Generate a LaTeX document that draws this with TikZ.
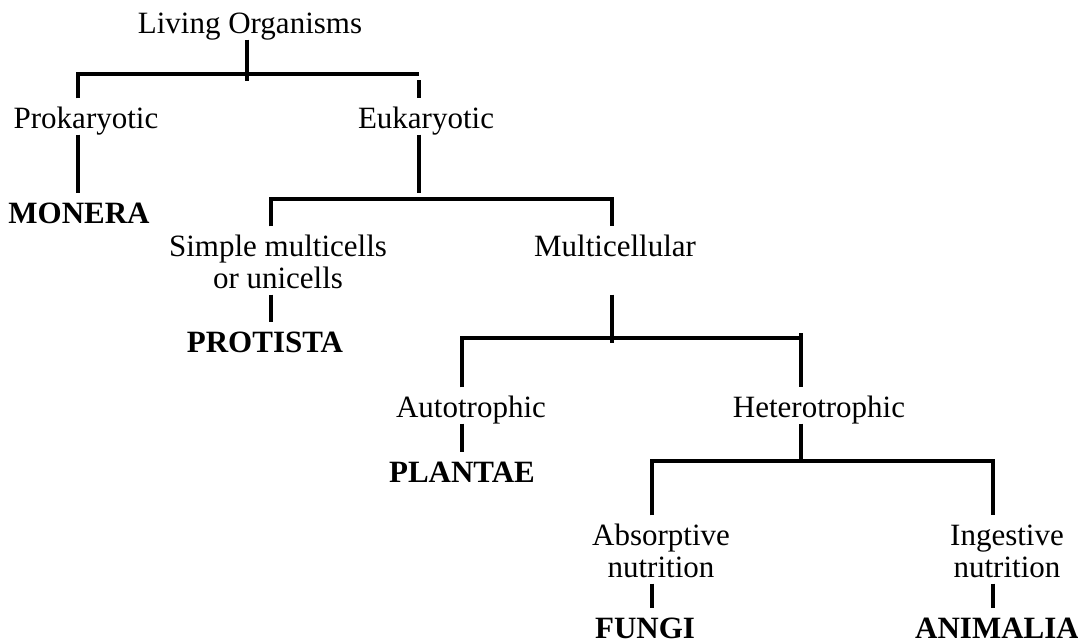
\documentclass[tikz,border=0pt]{standalone}
\usepackage{fontspec}
\setmainfont{Liberation Serif}
\usepackage{tikz}

\tikzset{
  taxon/.style={font=\fontsize{31}{32}\selectfont, anchor=base, inner sep=0pt,
    text height=28pt, text depth=5pt},
  kingdom/.style={taxon, font=\fontsize{31}{32}\selectfont\bfseries},
  twoline/.style={taxon, align=center, text height=60pt},
}

\begin{document}
\begin{tikzpicture}[x=1pt, y=-1pt, line width=3.1pt]
\useasboundingbox (0,0) rectangle (1078,643);

% labels (two-line ones sit on the baseline of their last line)
\node [taxon] (living) at (250,33) {Living Organisms};
\node [taxon] (prok) at (86,128) {Prokaryotic};
\node [taxon] (euk) at (426,128) {Eukaryotic};
\node [kingdom] (monera) at (79,223) {MONERA};
\node [twoline] (simple) at (278,288) {Simple multicells\\or unicells};
\node [taxon, text depth=37pt] (multi) at (615,256) {Multicellular};
\node [kingdom] (protista) at (265,352) {PROTISTA};
\node [taxon] (auto) at (471,417) {Autotrophic};
\node [taxon] (hetero) at (819,417) {Heterotrophic};
\node [kingdom] (plantae) at (462,482) {PLANTAE};
\node [twoline] (absorp) at (661,577) {Absorptive\\nutrition};
\node [twoline] (ingest) at (1007,577) {Ingestive\\nutrition};
\node [kingdom] (fungi) at (645,638) {FUNGI};
\node [kingdom] (animalia) at (997,638) {ANIMALIA};

% branch bars
\coordinate (b1l) at (78,74);  \coordinate (b1m) at (247,74); \coordinate (b1r) at (419,74);
\coordinate (b2l) at (271,199); \coordinate (b2m) at (419,199); \coordinate (b2r) at (612,199);
\coordinate (b3l) at (462,338); \coordinate (b3m) at (612,338); \coordinate (b3r) at (801,338);
\coordinate (b4l) at (652,461); \coordinate (b4m) at (801,461); \coordinate (b4r) at (993,461);

\draw (living.south -| b1m) -- (b1m) -- ++(0,7);
\draw (prok.north -| b1l) -- (b1l) -- (b1r);
\draw ([yshift=-6pt]b1r) -- (euk.north -| b1r);
\draw (prok.south -| b1l) -- (monera.north -| b1l);

\draw (euk.south -| b2m) -- ([yshift=6pt]b2m);
\draw (simple.north -| b2l) -- (b2l) -- (b2r) -- (multi.north -| b2r);
\draw (simple.south -| b2l) -- (protista.north -| b2l);

\draw (multi.south -| b3m) -- ([yshift=-5pt]b3m);
\draw (auto.north -| b3l) -- (b3l) -- (b3r);
\draw ([yshift=5pt]b3r) -- (hetero.north -| b3r);
\draw (auto.south -| b3l) -- (plantae.north -| b3l);

\draw (hetero.south -| b4m) -- (b4m);
\draw (absorp.north -| b4l) -- (b4l) -- (b4r) -- (ingest.north -| b4r);
\draw (absorp.south -| b4l) -- (fungi.north -| b4l);
\draw (ingest.south -| b4r) -- (animalia.north -| b4r);
\end{tikzpicture}
\end{document}
